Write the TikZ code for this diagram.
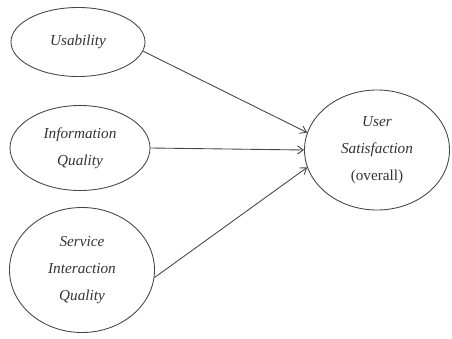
\documentclass[tikz,border=0pt]{standalone}
\usepackage{fontspec}
\setmainfont{Liberation Serif}
\usetikzlibrary{shapes.geometric, arrows.meta, positioning}
\definecolor{linegray}{RGB}{70,70,70}

\begin{document}
\begin{tikzpicture}[
        x=0.03cm, y=-0.03cm,
        construct/.style={ellipse, draw=linegray, line width=0.75pt, inner sep=0pt, align=center, font=\fontsize{13}{23}\selectfont\itshape, text=black!80},
        link/.style={-{Straight Barb[length=5pt, width=7pt]}, draw=linegray, line width=0.75pt}
    ]
        \useasboundingbox (0,0) rectangle (452,338);

        \node[construct, minimum width=4.02cm, minimum height=2.07cm] (usab) at (78,42) {Usability};
        \node[construct, minimum width=4.2cm, minimum height=2.55cm] (info) at (80,148) {Information\\Quality};
        \node[construct, minimum width=4.35cm, minimum height=3.75cm] (serv) at (82,270) {Service\\Interaction\\Quality};
        \node[construct, minimum width=4.35cm, minimum height=3.6cm] (sat) at (377,150) {User\\Satisfaction\\{\upshape (overall)}};

        \draw[link] (usab.-8) -- (sat.166);
        \draw[link] (info.east) -- (sat.west);
        \draw[link] (serv.-6) -- (sat.194);
    \end{tikzpicture}
\end{document}
